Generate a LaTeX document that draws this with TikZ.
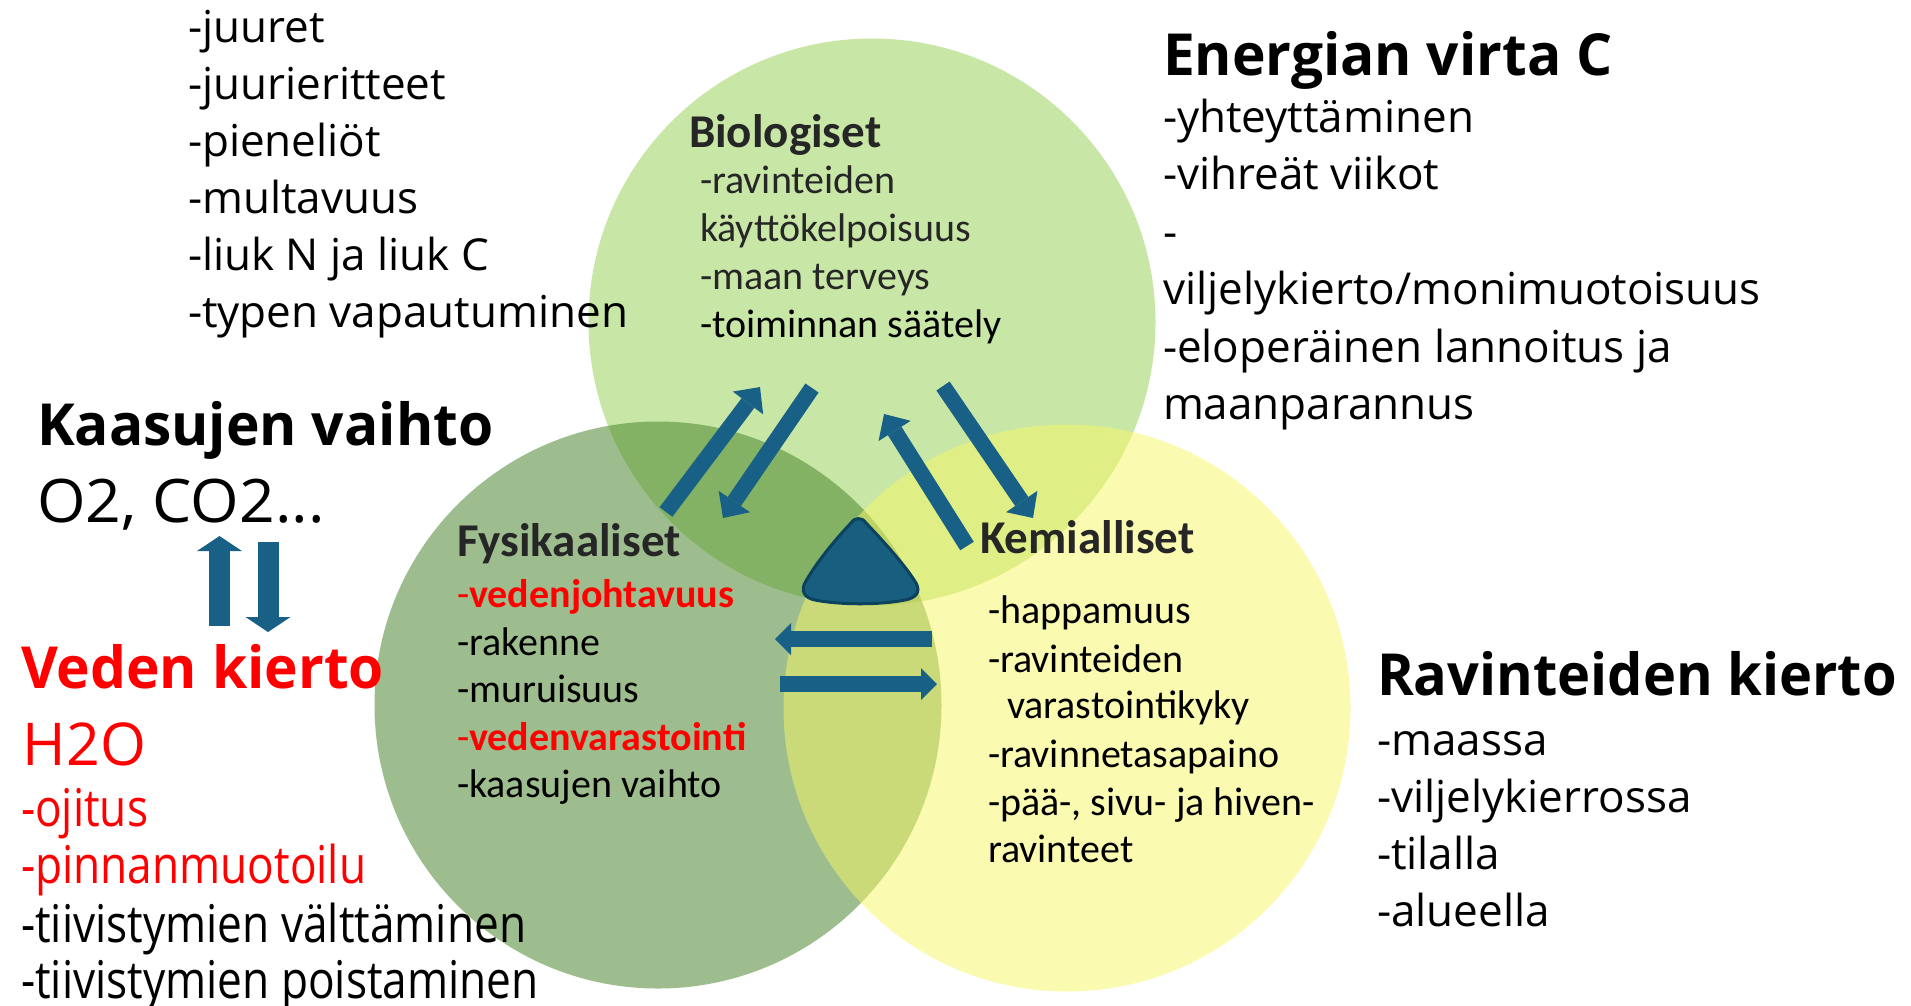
\documentclass[tikz,border=0pt]{standalone}
\usepackage{fontspec}
\setmainfont{Open Sans}
\newfontfamily\osans{Open Sans}
\newfontfamily\headf{Open Sans}[FakeStretch=0.98]
\newfontfamily\ravf{Open Sans}[FakeStretch=0.965]
\newfontfamily\widef{Open Sans}[FakeStretch=1.04]
\newfontfamily\tallf{Open Sans}[FakeStretch=0.85]
\newfontfamily\calf{Carlito}
\usetikzlibrary{arrows.meta}
\definecolor{bioC}{RGB}{146,208,80}
\definecolor{fysC}{RGB}{70,132,43}
\definecolor{kemC}{RGB}{247,247,101}
\definecolor{arrB}{RGB}{24,96,134}
\definecolor{triB}{RGB}{23,94,127}
\definecolor{triE}{RGB}{12,66,94}
\definecolor{dgray}{RGB}{38,38,38}
\definecolor{redT}{RGB}{255,0,0}
\begin{document}
\begin{tikzpicture}[x=1pt,y=-1pt,
  txt/.style={anchor=base west,inner sep=0pt,outer sep=0pt},
  lst/.style={txt,font=\osans\fontsize{44}{50}\selectfont},
  head/.style={txt,font=\headf\bfseries\fontsize{58}{64}\selectfont},
  tall/.style={txt,font=\tallf\fontsize{52}{58}\selectfont},
  cit/.style={txt,font=\calf\fontsize{40}{48}\selectfont},
  cith/.style={txt,font=\calf\bfseries\fontsize{47}{54}\selectfont,text=dgray},
  venn/.style={circle,inner sep=0pt,outer sep=0pt,minimum size=567pt},
  diag/.style={draw=arrB,line width=16pt,-{Triangle[width=38pt,length=20pt,line width=0pt]}},
  horiz/.style={draw=arrB,line width=16pt,-{Triangle[width=32pt,length=16pt,line width=0pt]}},
  vert/.style={draw=arrB,line width=21pt,-{Triangle[width=45pt,length=15pt,line width=0pt]}},
]
\useasboundingbox[fill=white] (0,0) rectangle (1911,1005);

% Venn circles
\node[venn,fill=bioC,fill opacity=0.5] (bio) at (872,322) {};
\node[venn,fill=fysC,fill opacity=0.53] (fys) at (658,705) {};
\node[venn,fill=kemC,fill opacity=0.5] (kem) at (1067,708) {};

% central rounded triangle
\draw[fill=triB,draw=triE,line width=3pt]
  (851,523) .. controls (855,517) and (862,517) .. (866,523)
  .. controls (888,546) and (907,568) .. (916,583)
  .. controls (921,592) and (916,598) .. (905,600)
  .. controls (880,605) and (840,605) .. (815,600)
  .. controls (804,598) and (800,590) .. (806,581)
  .. controls (815,565) and (832,543) .. (851,523) -- cycle;

% arrow end points
\coordinate (a1s) at (666,512); \coordinate (a1e) at (760,387);
\coordinate (a2s) at (812,388); \coordinate (a2e) at (723,518);
\coordinate (a3s) at (967,546); \coordinate (a3e) at (884,414);
\coordinate (a4s) at (943,386); \coordinate (a4e) at (1033,518);
\coordinate (h1s) at (932,639); \coordinate (h1e) at (775,639);
\coordinate (h2s) at (780,684); \coordinate (h2e) at (937,684);
\coordinate (v1s) at (219.5,626); \coordinate (v1e) at (219.5,536);
\coordinate (v2s) at (268,542); \coordinate (v2e) at (268,632);

\draw[diag] (a1s) -- (a1e);
\draw[diag] (a2s) -- (a2e);
\draw[diag] (a3s) -- (a3e);
\draw[diag] (a4s) -- (a4e);
\draw[horiz] (h1s) -- (h1e);
\draw[horiz] (h2s) -- (h2e);
\draw[vert] (v1s) -- (v1e);
\draw[vert] (v2s) -- (v2e);

% top-left list
\foreach \t [count=\i from 0] in {-juuret,-juurieritteet,-pieneliöt,-multavuus,-liuk N ja liuk C,-typen vapautuminen}
  \node[lst] (tl\i) at (188,{42+57*\i}) {\t};

% Energian virta C
\node[head] (ener) at (1163,75) {Energian virta C};
\foreach \t [count=\i from 0] in {-yhteyttäminen,-vihreät viikot,-,viljelykierto/monimuotoisuus,-eloperäinen lannoitus ja,maanparannus}
  \node[lst] (en\i) at (1163,{132+57.5*\i}) {\t};

% Ravinteiden kierto
\node[txt,font=\ravf\bfseries\fontsize{58}{64}\selectfont] (rav) at (1377,695) {Ravinteiden kierto};
\foreach \t [count=\i from 0] in {-maassa,-viljelykierrossa,-tilalla,-alueella}
  \node[lst] (rk\i) at (1377,{755+57.3*\i}) {\t};

% Kaasujen vaihto / Veden kierto
\node[head] (kaas) at (37,445) {Kaasujen vaihto};
\node[txt,font=\widef\fontsize{60}{66}\selectfont] (o2) at (37,522) {O2, CO2...};
\node[head,text=redT] (veden) at (21,688) {Veden kierto};
\node[txt,font=\osans\fontsize{59}{66}\selectfont,text=redT] (h2o) at (23,765) {H2O};
\node[tall,text=redT] (oj) at (21,826) {-ojitus};
\node[tall,text=redT] (pin) at (21,883) {-pinnanmuotoilu};
\node[tall] (tv1) at (21,942) {-tiivistymien välttäminen};
\node[tall] (tv2) at (21,998) {-tiivistymien poistaminen};

% Biologiset
\node[cith] (bioT) at (689,147) {Biologiset};
\node[cit,text=dgray] (b1) at (700,193) {-ravinteiden};
\node[cit,text=dgray] (b2) at (700,241) {käyttökelpoisuus};
\node[cit,text=dgray] (b3) at (700,289) {-maan terveys};
\node[cit] (b4) at (700,337) {-toiminnan säätely};

% Fysikaaliset
\node[cith] (fysT) at (457,556) {Fysikaaliset};
\node[cit,text=redT] (f1) at (457,607) {-\textbf{vedenjohtavuus}};
\node[cit] (f2) at (457,655) {-rakenne};
\node[cit] (f3) at (457,702) {-muruisuus};
\node[cit,text=redT] (f4) at (457,750) {-\textbf{vedenvarastointi}};
\node[cit] (f5) at (457,797) {-kaasujen vaihto};

% Kemialliset
\node[cith] (kemT) at (980,553) {Kemialliset};
\node[cit] (k1) at (988,623) {-happamuus};
\node[cit] (k2) at (988,672) {-ravinteiden};
\node[cit] (k3) at (1007,718) {varastointikyky};
\node[cit] (k4) at (988,767) {-ravinnetasapaino};
\node[cit] (k5) at (988,815) {-pää-, sivu- ja hiven-};
\node[cit] (k6) at (988,862) {ravinteet};
\end{tikzpicture}
\end{document}
